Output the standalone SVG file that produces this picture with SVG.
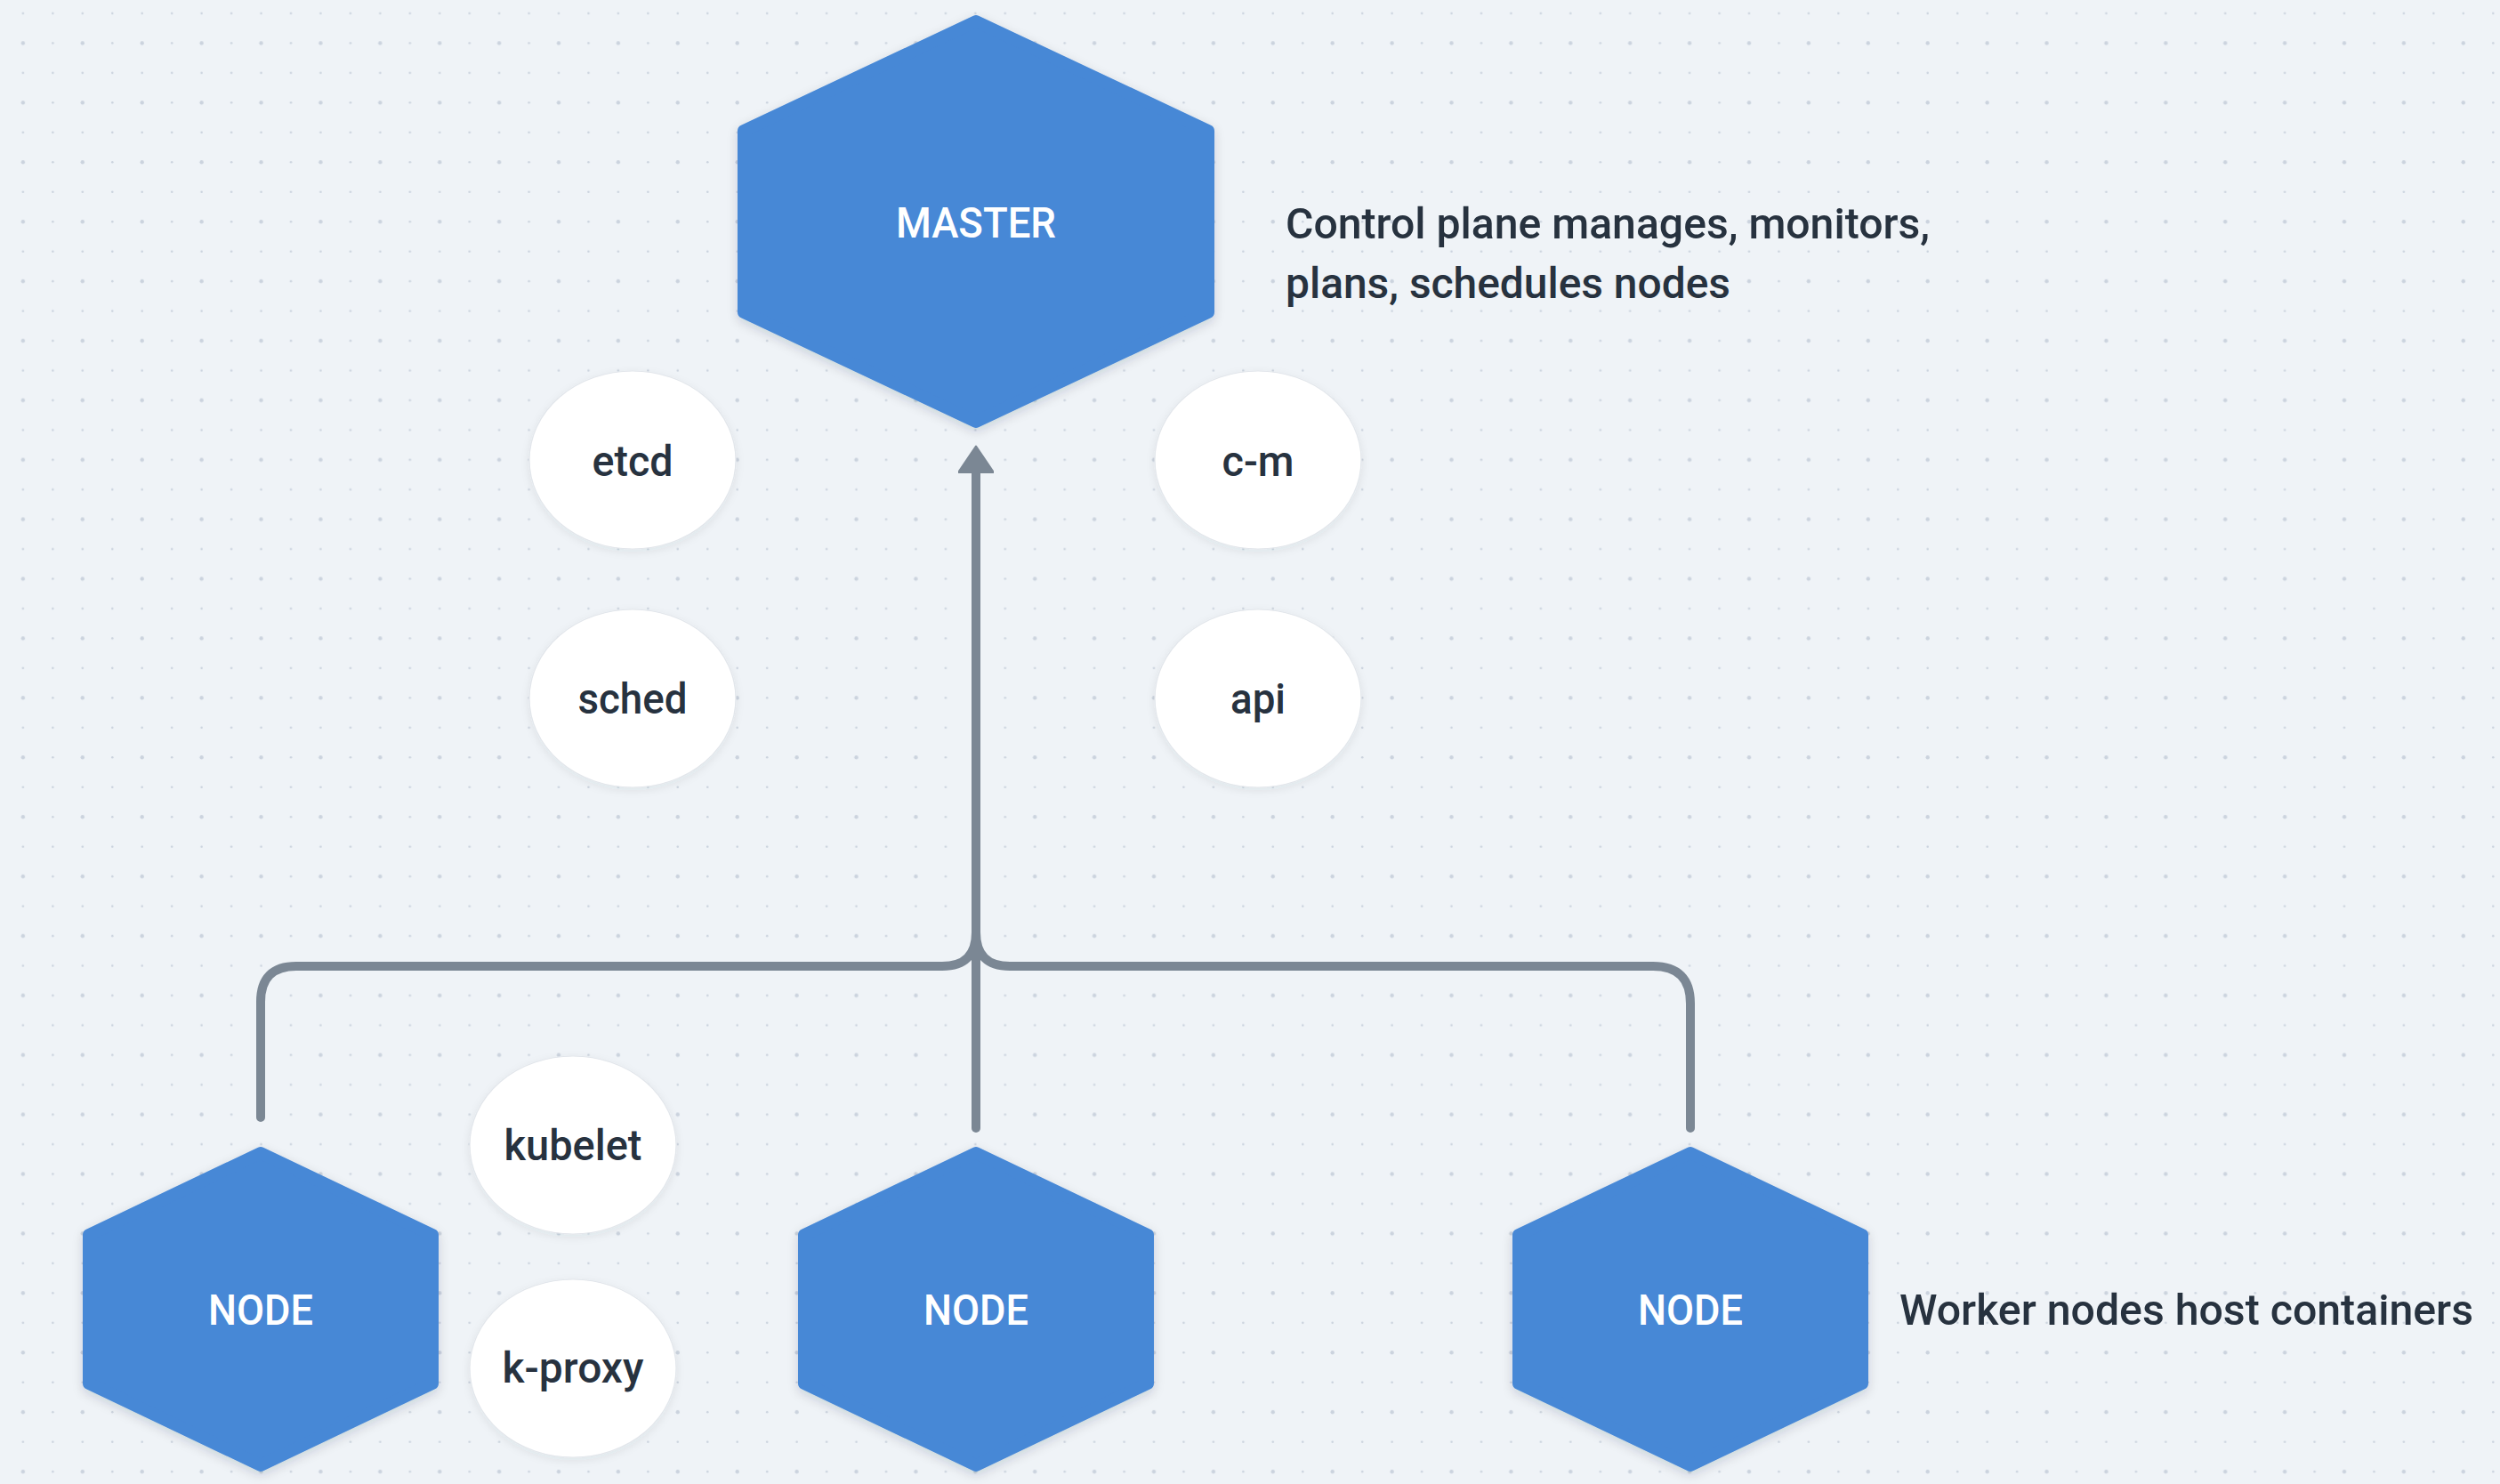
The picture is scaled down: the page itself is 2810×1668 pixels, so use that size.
<svg xmlns="http://www.w3.org/2000/svg" width="2810" height="1668" viewBox="0 0 2810 1668">
  <defs>
    <pattern id="dots" patternUnits="userSpaceOnUse" x="9.2" y="-1.7" width="66.9" height="66.9">
      <circle cx="16.7" cy="16.7" r="1.3" fill="#cbd3de"/>
      <circle cx="50.2" cy="16.7" r="1.3" fill="#cbd3de"/>
      <circle cx="16.7" cy="50.2" r="2.2" fill="#cbd3de"/>
      <circle cx="50.2" cy="50.2" r="1.3" fill="#cbd3de"/>
    </pattern>
    <filter id="shadow" x="-20%" y="-20%" width="140%" height="140%">
      <feDropShadow dx="0" dy="4" stdDeviation="6" flood-color="#1f2d3d" flood-opacity="0.16"/>
    </filter>
    <filter id="softshadow" x="-20%" y="-20%" width="140%" height="140%">
      <feDropShadow dx="0" dy="3" stdDeviation="5" flood-color="#1f2d3d" flood-opacity="0.08"/>
    </filter>
    <marker id="arrow" markerUnits="userSpaceOnUse" markerWidth="40" markerHeight="40" viewBox="0 0 30 38" refX="1" refY="19" orient="auto">
      <path d="M0,0 L28,19 L0,38 Z" fill="#7b8794" stroke="#7b8794" stroke-width="2" stroke-linejoin="round"/>
    </marker>
    <style>
      .hex { fill: #4788d6; stroke: #4788d6; stroke-width: 14; stroke-linejoin: round; filter: url(#shadow); }
      .hexlabel { font-family: Roboto, "Liberation Sans", sans-serif; font-weight: 500; font-size: 48px; fill: #ffffff; text-anchor: middle; }
      .oval { fill: #ffffff; stroke: #e2e6eb; stroke-width: 1.2; filter: url(#softshadow); }
      .ovallabel { font-family: Roboto, "Liberation Sans", sans-serif; font-weight: 500; font-size: 48px; fill: #27323f; text-anchor: middle; }
      .note { font-family: Roboto, "Liberation Sans", sans-serif; font-weight: 500; font-size: 48px; fill: #27323f; }
      .conn { fill: none; stroke: #7b8794; stroke-width: 10; stroke-linecap: round; stroke-linejoin: round; }
    </style>
  </defs>

  <rect width="2810" height="1668" fill="#eff3f7"/>
  <rect width="2810" height="1668" fill="url(#dots)"/>

  <g id="connectors">
    <path class="conn" d="M 293 1256 V 1126 Q 293 1086 333 1086 H 1059 Q 1097 1086 1097 1048 V 530"/>
    <path class="conn" d="M 1900 1268 V 1128 Q 1900 1086 1858 1086 H 1135 Q 1097 1086 1097 1048 V 530"/>
    <path class="conn" d="M 1097 1268 V 530" marker-end="url(#arrow)"/>
  </g>

  <g id="master">
    <polygon class="hex" points="1097,24 1358,147 1358,351 1097,474 836,351 836,147"/>
    <text class="hexlabel" x="1097" y="267" textLength="180" lengthAdjust="spacingAndGlyphs">MASTER</text>
  </g>

  <g id="etcd">
    <ellipse class="oval" cx="711" cy="517" rx="116" ry="100"/>
    <text class="ovallabel" x="711" y="535" textLength="91" lengthAdjust="spacingAndGlyphs">etcd</text>
  </g>
  <g id="c-m">
    <ellipse class="oval" cx="1414" cy="517" rx="116" ry="100"/>
    <text class="ovallabel" x="1414" y="535" textLength="81" lengthAdjust="spacingAndGlyphs">c-m</text>
  </g>
  <g id="sched">
    <ellipse class="oval" cx="711" cy="785" rx="116" ry="100"/>
    <text class="ovallabel" x="711" y="802" textLength="123" lengthAdjust="spacingAndGlyphs">sched</text>
  </g>
  <g id="api">
    <ellipse class="oval" cx="1414" cy="785" rx="116" ry="100"/>
    <text class="ovallabel" x="1414" y="802" textLength="62" lengthAdjust="spacingAndGlyphs">api</text>
  </g>

  <g id="kubelet">
    <ellipse class="oval" cx="644" cy="1287" rx="116" ry="100"/>
    <text class="ovallabel" x="644" y="1304" textLength="155" lengthAdjust="spacingAndGlyphs">kubelet</text>
  </g>
  <g id="k-proxy">
    <ellipse class="oval" cx="644" cy="1538" rx="116" ry="100"/>
    <text class="ovallabel" x="644" y="1554" textLength="159" lengthAdjust="spacingAndGlyphs">k-proxy</text>
  </g>

  <g id="node1">
    <polygon class="hex" points="293,1296 486,1388 486,1555 293,1647 100,1555 100,1388"/>
    <text class="hexlabel" x="293" y="1489" textLength="118" lengthAdjust="spacingAndGlyphs">NODE</text>
  </g>
  <g id="node2">
    <polygon class="hex" points="1097,1296 1290,1388 1290,1555 1097,1647 904,1555 904,1388"/>
    <text class="hexlabel" x="1097" y="1489" textLength="118" lengthAdjust="spacingAndGlyphs">NODE</text>
  </g>
  <g id="node3">
    <polygon class="hex" points="1900,1296 2093,1388 2093,1555 1900,1647 1707,1555 1707,1388"/>
    <text class="hexlabel" x="1900" y="1489" textLength="118" lengthAdjust="spacingAndGlyphs">NODE</text>
  </g>

  <g id="master-note">
    <text class="note" x="1445" y="268" textLength="724" lengthAdjust="spacingAndGlyphs">Control plane manages, monitors,</text>
    <text class="note" x="1445" y="335" textLength="500" lengthAdjust="spacingAndGlyphs">plans, schedules nodes</text>
  </g>
  <g id="worker-note">
    <text class="note" x="2135" y="1489" textLength="645" lengthAdjust="spacingAndGlyphs">Worker nodes host containers</text>
  </g>
</svg>
